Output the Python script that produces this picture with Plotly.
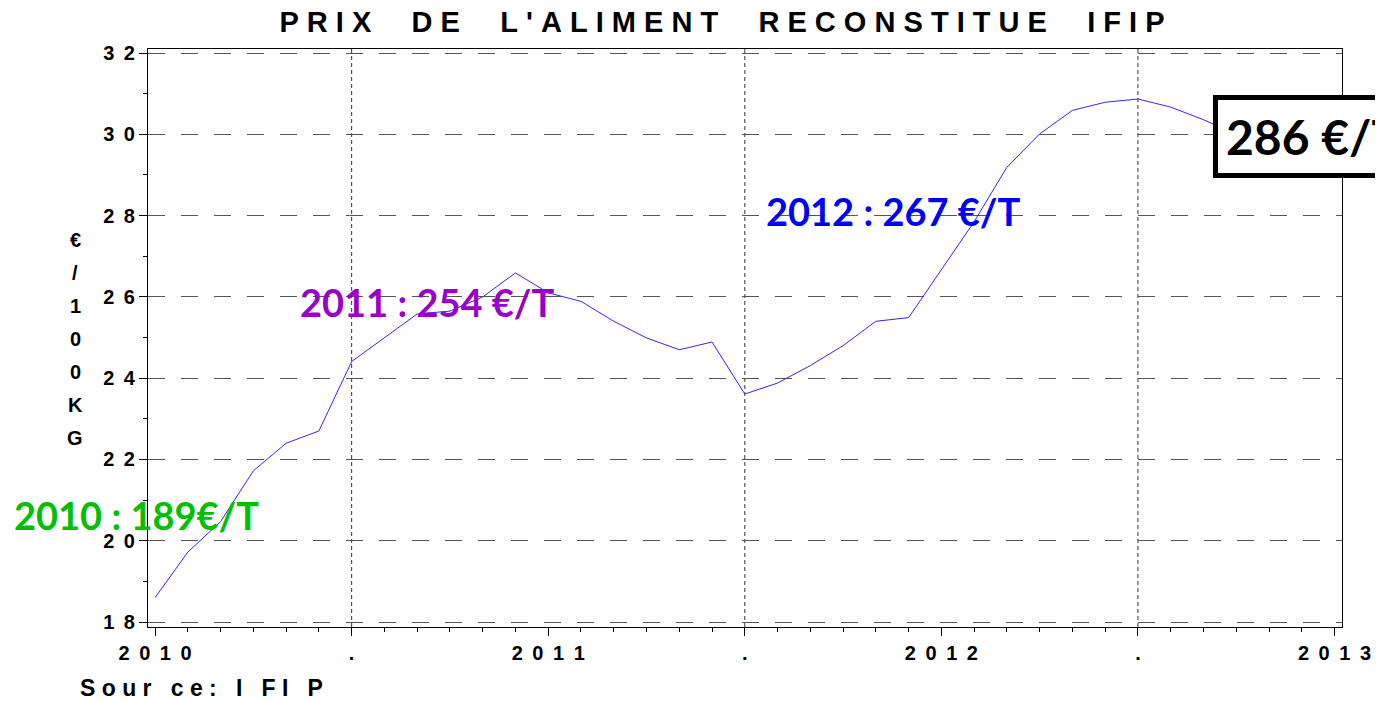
import plotly.graph_objects as go

# ---- data ----
years_start = 2010
month_index = list(range(34))  # Jan 2010 .. Oct 2012
prices = [18.6, 19.72, 20.47, 21.72, 22.40, 22.70, 24.41, 24.99, 25.58, 25.65, 26.0, 26.59,
          26.1, 25.89, 25.40, 24.99, 24.70, 24.89, 23.61, 23.88, 24.31, 24.80, 25.40, 25.49,
          26.68, 27.85, 29.19, 30.01, 30.59, 30.79, 30.87, 30.67, 30.36, 30.0]
x_tickvals = [2010, 2010.5, 2011, 2011.5, 2012, 2012.5, 2013]
x_ticklabels = ["2010", ".", "2011", ".", "2012", ".", "2013"]
y_tickvals = [18, 20, 22, 24, 26, 28, 30, 32]
y_ticklabels = ["18", "20", "22", "24", "26", "28", "30", "32"]
half_year_lines = [2010.5, 2011.5, 2012.5]
ylabel_chars = ["€", "/", "1", "0", "0", "K", "G"]
title_text = "PRIX DE L'ALIMENT RECONSTITUE IFIP"
source_text = "Sour ce: I FI P"
labels = [
    ("2010 : 189€/T", "#00c000"),
    ("2011 : 254 €/T", "#9900cc"),
    ("2012 : 267 €/T", "#0000ff"),
    ("286 €/T", "#000000"),
]

x_vals = [years_start + m / 12 for m in month_index]


def spaced(s, sep, word_sep):
    out = []
    for ch in s:
        out.append(word_sep if ch == " " else ch)
    return sep.join(out)


NB = "\u00a0"
THIN = "\u2009"

# page body has an 8px margin: design in canvas coordinates shifted by 8px
OFF = 8
W, H = 1383 - OFF, 701 - OFF
ml, mr, mt, mb = 148 - OFF, 1383 - 1347, 49 - OFF, 701 - 627
pw, ph = W - ml - mr, H - mt - mb


def px_x(px):
    return (px - OFF - ml) / pw


def px_y(py):
    return (H - mb - (py - OFF)) / ph


fig = go.Figure()
fig.add_trace(go.Scatter(x=x_vals, y=prices, mode="lines",
                         line=dict(color="#2a2aff", width=1), hoverinfo="skip"))

for xv in half_year_lines:
    fig.add_shape(type="line", xref="x", yref="paper", x0=xv, x1=xv, y0=0, y1=1,
                  line=dict(color="#333333", width=1, dash="4px,3px"), layer="below")

base_font = "Liberation Sans, Arial, sans-serif"
label_font = "Lato, Open Sans, sans-serif"
tick_sep = NB + THIN

fig.update_layout(
    width=W, height=H,
    margin=dict(l=ml, r=mr, t=mt, b=mb),
    plot_bgcolor="white", paper_bgcolor="white",
    showlegend=False,
    font=dict(family=base_font, color="black"),
    title=dict(text=spaced(title_text, NB, NB + NB + NB), x=(722 - OFF) / W, xanchor="center",
               y=1 - (22 - OFF) / H, yanchor="middle", yref="container",
               font=dict(size=29, family=base_font, weight="bold", color="black")),
    xaxis=dict(range=[2009.982, 2013.019], tickvals=x_tickvals,
               ticktext=[tick_sep.join(t) for t in x_ticklabels],
               showgrid=False, zeroline=False, showline=True, mirror=True,
               linecolor="black", linewidth=1, ticks="outside", ticklen=8,
               tickcolor="black", tickwidth=1,
               tickfont=dict(size=20, family=base_font, weight="bold", color="black"),
               minor=dict(dtick=1 / 12, tick0=2010, ticklen=4, ticks="outside",
                          tickcolor="black", showgrid=False)),
    yaxis=dict(range=[17.877, 32.10], tickvals=y_tickvals,
               ticktext=[tick_sep.join(t) for t in y_ticklabels],
               showgrid=True, gridcolor="#555555", gridwidth=1, griddash="17px,16px",
               zeroline=False, showline=True, mirror=True,
               linecolor="black", linewidth=1, ticks="outside", ticklen=8,
               tickcolor="black", tickwidth=1,
               tickfont=dict(size=20, family=base_font, weight="bold", color="black"),
               minor=dict(dtick=1, tick0=18, ticklen=4, ticks="outside",
                          tickcolor="black", showgrid=False)),
)

# stacked y-axis label
for i, ch in enumerate(ylabel_chars):
    fig.add_annotation(text=ch, xref="paper", yref="paper",
                       x=px_x(75), y=px_y(240 + 33 * i), xanchor="center", yanchor="middle",
                       showarrow=False,
                       font=dict(size=20, family=base_font, weight="bold", color="black"))

# source
fig.add_annotation(text=spaced(source_text, NB, NB), xref="paper", yref="paper",
                   x=px_x(78), y=px_y(688), xanchor="left", yanchor="middle", showarrow=False,
                   font=dict(size=23, family=base_font, weight="bold", color="black"))

# year labels
pos = [(11, 515), (299, 302), (767, 211)]
for (txt, col), (lx, ly) in zip(labels[:3], pos):
    fig.add_annotation(text=txt, xref="paper", yref="paper", x=px_x(lx), y=px_y(ly),
                       xanchor="left", yanchor="middle", showarrow=False,
                       font=dict(size=38, family=label_font, weight="bold", color=col))

# boxed latest value
txt, col = labels[3]
fig.add_annotation(text=txt, xref="paper", yref="paper", x=px_x(1217), y=px_y(136.5),
                   xanchor="left", yanchor="middle", showarrow=False,
                   bgcolor="white", bordercolor="black", borderwidth=5, borderpad=8,
                   font=dict(size=48, family=label_font, weight="bold", color=col))

fig.write_html("out.html")
